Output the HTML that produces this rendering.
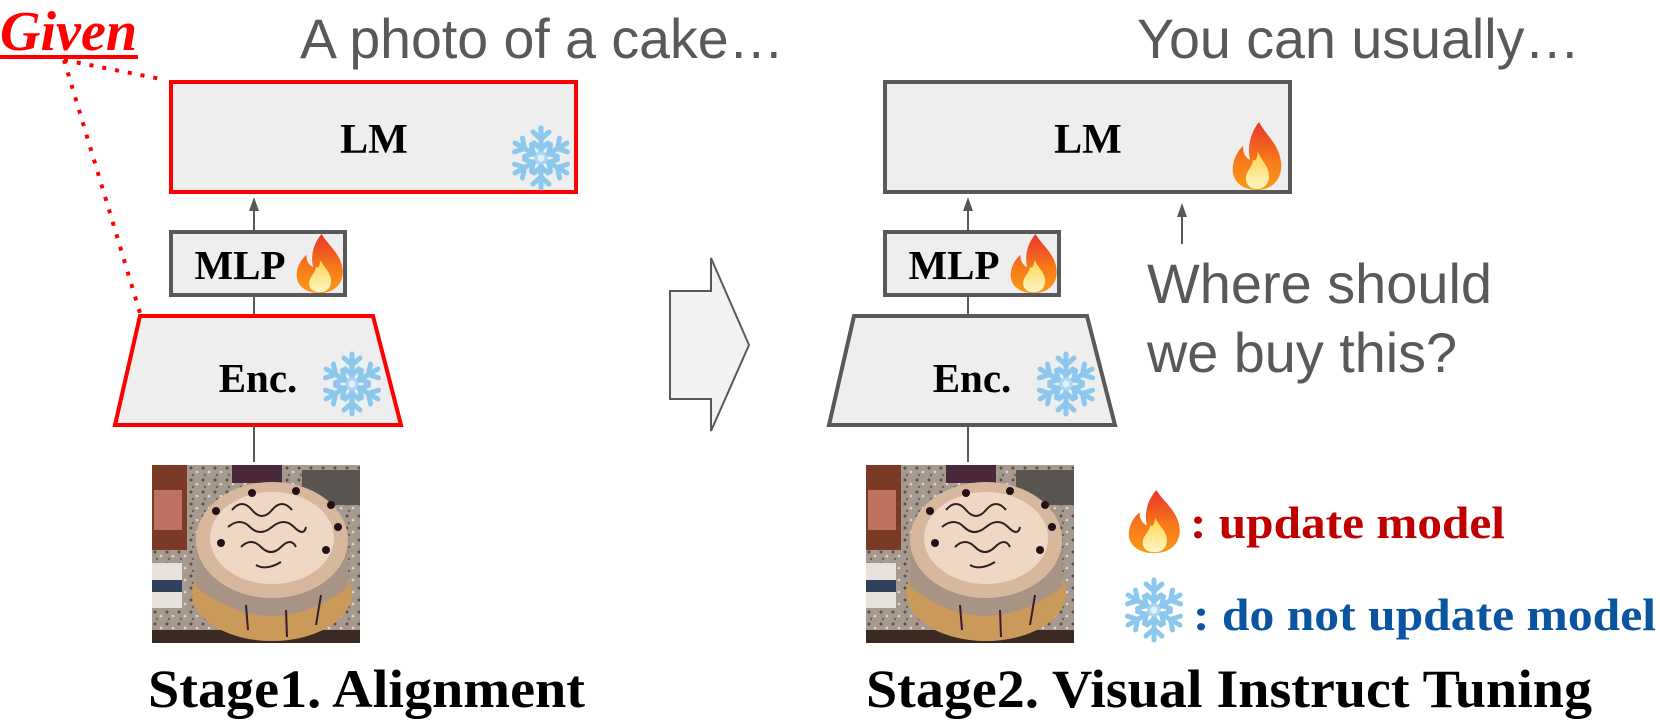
<!DOCTYPE html>
<html><head><meta charset="utf-8"><style>
html,body{margin:0;padding:0;background:#fff;}
svg{display:block}
</style></head><body>
<svg width="1660" height="727" viewBox="0 0 1660 727" xmlns="http://www.w3.org/2000/svg">
<defs>
<linearGradient id="fg" x1="0" y1="0" x2="0" y2="1">
<stop offset="0" stop-color="#e8342c"/><stop offset="0.55" stop-color="#f7781a"/><stop offset="1" stop-color="#fb9a16"/>
</linearGradient>
<linearGradient id="fi" x1="0" y1="0" x2="0" y2="1">
<stop offset="0" stop-color="#ffd54a"/><stop offset="1" stop-color="#fff6c8"/>
</linearGradient>
<pattern id="gran" width="12" height="12" patternUnits="userSpaceOnUse">
<rect width="12" height="12" fill="#a69a8e"/>
<circle cx="3" cy="3" r="1.5" fill="#5a4e46"/><circle cx="9" cy="7" r="1.3" fill="#e0d8d0"/><circle cx="5" cy="10" r="1.2" fill="#6e625a"/>
</pattern>
<g id="fire">
<path d="M28 0 C34 12 48 22 50 40 C52 56 42 68 26 68 C10 68 0 58 2 44 C3 34 8 28 12 24 C12 32 15 36 19 38 C16 24 20 10 28 0 Z" fill="url(#fg)"/>
<path d="M27 30 C30 38 38 44 38 54 C38 62 33 67 26 67 C19 67 14 62 15 55 C16 48 22 44 22 38 C25 40 26 36 27 30 Z" fill="url(#fi)"/>
</g>
<g id="snow" stroke="#8cc8ee" stroke-width="5" stroke-linecap="round" fill="none">
<g id="arm"><line x1="0" y1="0" x2="0" y2="-30"/><polyline points="-8,-26 0,-19 8,-26"/><polyline points="-7,-15 0,-9 7,-15"/></g>
<use href="#arm" transform="rotate(60)"/><use href="#arm" transform="rotate(120)"/><use href="#arm" transform="rotate(180)"/><use href="#arm" transform="rotate(240)"/><use href="#arm" transform="rotate(300)"/>
<circle r="5" fill="#dff1fc" stroke="#a9d8f4" stroke-width="3"/>
</g>
<g id="cake">
<rect x="0" y="0" width="208" height="178" fill="url(#gran)"/>
<rect x="0" y="0" width="35" height="85" fill="#7a3a26"/>
<rect x="2" y="25" width="28" height="40" fill="#c07060"/>
<rect x="0" y="98" width="30" height="45" fill="#e8e2dc"/>
<rect x="0" y="115" width="30" height="12" fill="#30405a"/>
<rect x="80" y="0" width="50" height="18" fill="#4a2a3a"/>
<rect x="150" y="5" width="58" height="35" fill="#5a5450"/>
<rect x="0" y="165" width="208" height="13" fill="#3a2a22"/>
<ellipse cx="120" cy="128" rx="80" ry="48" fill="#c99a5a"/>
<path d="M44 75 L44 122 Q120 180 196 122 L196 75 Z" fill="#a89484"/>
<ellipse cx="120" cy="75" rx="76" ry="58" fill="#d8b89c"/>
<ellipse cx="120" cy="73" rx="62" ry="46" fill="#eed8c4"/>
<path d="M80 45 q10 -12 20 0 t20 0 t20 0 M76 62 q12 -10 22 0 t22 0 t22 0 t12 0 M89 82 q10 -10 20 0 t20 0 t15 0 M104 100 q10 6 25 -3" stroke="#3a1a20" stroke-width="2" fill="none"/>
<g fill="#221018"><circle cx="100" cy="28" r="4"/><circle cx="144" cy="26" r="4"/><circle cx="179" cy="40" r="4"/><circle cx="186" cy="62" r="4"/><circle cx="64" cy="46" r="4"/><circle cx="69" cy="78" r="4"/><circle cx="174" cy="85" r="4"/></g>
<g stroke="#3a1a30" stroke-width="2"><line x1="94" y1="140" x2="96" y2="165"/><line x1="134" y1="145" x2="135" y2="172"/><line x1="169" y1="130" x2="164" y2="160"/></g>
</g>
</defs>

<text x="0" y="50" font-family="Liberation Serif, serif" font-style="italic" font-weight="bold" font-size="56" fill="#ff0000" textLength="137" lengthAdjust="spacingAndGlyphs">Given</text>
<rect x="0" y="55" width="138" height="4" fill="#ff0000"/>
<line x1="64" y1="60" x2="166" y2="80" stroke="#ff0000" stroke-width="4" stroke-dasharray="4 9"/>
<line x1="64" y1="60" x2="140" y2="313" stroke="#ff0000" stroke-width="4" stroke-dasharray="4 9"/>

<text x="300" y="58" font-family="Liberation Sans, sans-serif" font-size="56" fill="#595959" textLength="484" lengthAdjust="spacingAndGlyphs">A photo of a cake…</text>
<text x="1137" y="58" font-family="Liberation Sans, sans-serif" font-size="56" fill="#595959" textLength="443" lengthAdjust="spacingAndGlyphs">You can usually…</text>

<rect x="171" y="82" width="405" height="110" fill="#eeeeee" stroke="#ff0000" stroke-width="4"/>
<text x="374" y="153" text-anchor="middle" font-family="Liberation Serif, serif" font-weight="bold" font-size="42">LM</text>
<use href="#snow" transform="translate(541,158)"/>
<line x1="254" y1="231" x2="254" y2="208" stroke="#595959" stroke-width="2"/>
<polygon points="254,197 249,211 259,211" fill="#595959"/>
<rect x="171" y="232" width="174" height="63" fill="#eeeeee" stroke="#595959" stroke-width="4"/>
<text x="240" y="279" text-anchor="middle" font-family="Liberation Serif, serif" font-weight="bold" font-size="41">MLP</text>
<use href="#fire" transform="translate(295,234) scale(0.95,0.87)"/>
<line x1="254" y1="295" x2="254" y2="315" stroke="#595959" stroke-width="2"/>
<polygon points="140,316 373,316 401,425 115,425" fill="#eeeeee" stroke="#ff0000" stroke-width="4"/>
<text x="258" y="392" text-anchor="middle" font-family="Liberation Serif, serif" font-weight="bold" font-size="41">Enc.</text>
<use href="#snow" transform="translate(352,384)"/>
<line x1="254" y1="425" x2="254" y2="462" stroke="#595959" stroke-width="2"/>
<use href="#cake" transform="translate(152,465)"/>
<text x="148" y="707" font-family="Liberation Serif, serif" font-weight="bold" font-size="54" textLength="437" lengthAdjust="spacingAndGlyphs">Stage1. Alignment</text>

<polygon points="670,291 711,291 711,258 749,345 711,431 711,399 670,399" fill="#f2f2f2" stroke="#595959" stroke-width="2"/>

<rect x="885" y="82" width="405" height="110" fill="#eeeeee" stroke="#595959" stroke-width="4"/>
<text x="1088" y="153" text-anchor="middle" font-family="Liberation Serif, serif" font-weight="bold" font-size="42">LM</text>
<use href="#fire" transform="translate(1231,122)"/>
<line x1="968" y1="231" x2="968" y2="208" stroke="#595959" stroke-width="2"/>
<polygon points="968,197 963,211 973,211" fill="#595959"/>
<rect x="885" y="232" width="174" height="63" fill="#eeeeee" stroke="#595959" stroke-width="4"/>
<text x="954" y="279" text-anchor="middle" font-family="Liberation Serif, serif" font-weight="bold" font-size="41">MLP</text>
<use href="#fire" transform="translate(1009,234) scale(0.95,0.87)"/>
<line x1="968" y1="295" x2="968" y2="315" stroke="#595959" stroke-width="2"/>
<polygon points="854,316 1087,316 1115,425 829,425" fill="#eeeeee" stroke="#595959" stroke-width="4"/>
<text x="972" y="392" text-anchor="middle" font-family="Liberation Serif, serif" font-weight="bold" font-size="41">Enc.</text>
<use href="#snow" transform="translate(1066,384)"/>
<line x1="968" y1="425" x2="968" y2="462" stroke="#595959" stroke-width="2"/>
<use href="#cake" transform="translate(866,465)"/>
<text x="866" y="707" font-family="Liberation Serif, serif" font-weight="bold" font-size="54" textLength="726" lengthAdjust="spacingAndGlyphs">Stage2. Visual Instruct Tuning</text>

<line x1="1182" y1="244" x2="1182" y2="214" stroke="#595959" stroke-width="2"/>
<polygon points="1182,203 1177,217 1187,217" fill="#595959"/>
<text x="1147" y="303" font-family="Liberation Sans, sans-serif" font-size="56" fill="#595959" textLength="345" lengthAdjust="spacingAndGlyphs">Where should</text>
<text x="1147" y="372" font-family="Liberation Sans, sans-serif" font-size="56" fill="#595959" textLength="310" lengthAdjust="spacingAndGlyphs">we buy this?</text>

<use href="#fire" transform="translate(1127,490) scale(1.05,0.93)"/>
<text x="1190" y="538" font-family="Liberation Serif, serif" font-weight="bold" font-size="46" fill="#c00000" textLength="315" lengthAdjust="spacingAndGlyphs">: update model</text>
<use href="#snow" transform="translate(1154,610)"/>
<text x="1193" y="630" font-family="Liberation Serif, serif" font-weight="bold" font-size="46" fill="#0b54a0" textLength="463" lengthAdjust="spacingAndGlyphs">: do not update model</text>
</svg>
</body></html>
